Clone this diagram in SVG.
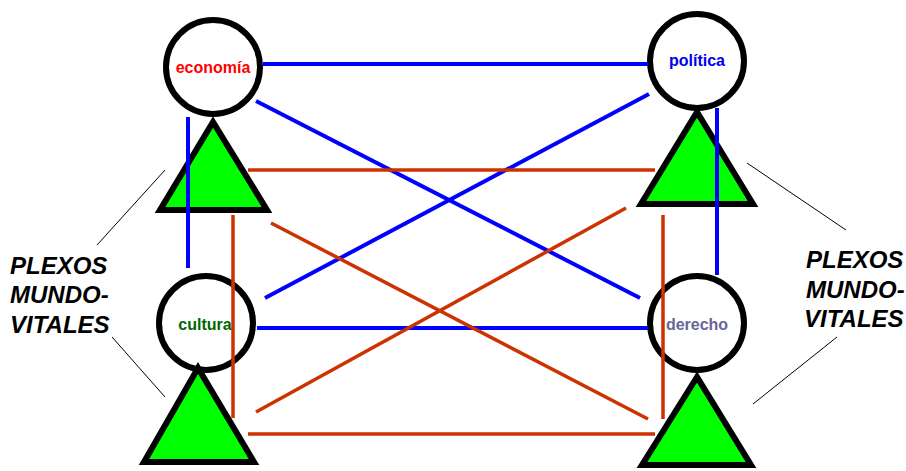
<svg xmlns="http://www.w3.org/2000/svg" width="906" height="471" viewBox="0 0 906 471">
  <style>
    .blue { stroke: #0000ff; stroke-width: 4; fill: none; }
    .red { stroke: #cc3300; stroke-width: 3.5; fill: none; }
    .thin { stroke: #000000; stroke-width: 1; fill: none; }
    .circ { fill: #ffffff; stroke: #000000; stroke-width: 6; }
    .tri { fill: #00ff00; stroke: #000000; stroke-width: 6; stroke-linejoin: miter; }
    .lbl { font-family: "Liberation Sans", Arial, sans-serif; font-weight: bold; font-size: 16px; text-anchor: middle; }
    .side { font-family: "Liberation Sans", Arial, sans-serif; font-weight: bold; font-style: italic; font-size: 24px; fill: #000000; }
  </style>
  <rect width="906" height="471" fill="#ffffff"/>

  <!-- node shapes -->
  <g id="economia">
    <circle class="circ" cx="213" cy="67" r="47"/>
    <text class="lbl" x="213" y="73" fill="#ff0000">economía</text>
  </g>
  <g id="politica">
    <circle class="circ" cx="697" cy="61" r="47"/>
    <text class="lbl" x="697" y="66" fill="#0000ee">política</text>
  </g>
  <g id="cultura">
    <circle class="circ" cx="206" cy="323" r="47"/>
    <text class="lbl" x="205" y="330" fill="#006600">cultura</text>
  </g>
  <g id="derecho">
    <circle class="circ" cx="697" cy="323" r="47"/>
    <text class="lbl" x="697" y="330" fill="#666699">derecho</text>
  </g>

  <g id="plexo-economia">
    <polygon class="tri" points="213,122 160,210 267,210"/>
  </g>
  <g id="plexo-politica">
    <polygon class="tri" points="697,112 641,204 753,204"/>
  </g>
  <g id="plexo-cultura">
    <polygon class="tri" points="198,368 144,462 254,462"/>
  </g>
  <g id="plexo-derecho">
    <polygon class="tri" points="697,377 642,465 751,465"/>
  </g>

  <!-- connectors -->
  <g id="connectors">
    <line class="blue" x1="263" y1="64" x2="648" y2="64"/>
    <line class="blue" x1="256" y1="101" x2="640" y2="298"/>
    <line class="blue" x1="649" y1="94" x2="265" y2="298"/>
    <line class="blue" x1="257" y1="328" x2="648" y2="328"/>
    <line class="blue" x1="188" y1="117" x2="188" y2="268"/>
    <line class="blue" x1="717" y1="108" x2="717" y2="275"/>

    <line class="red" x1="248" y1="170" x2="655" y2="170"/>
    <line class="red" x1="248" y1="434" x2="655" y2="434"/>
    <line class="red" x1="233" y1="215" x2="233" y2="418"/>
    <line class="red" x1="663" y1="215" x2="663" y2="419"/>
    <line class="red" x1="271" y1="223" x2="648" y2="419"/>
    <line class="red" x1="256" y1="412" x2="626" y2="208"/>

    <line class="thin" x1="165" y1="170" x2="97" y2="245"/>
    <line class="thin" x1="112" y1="337" x2="165" y2="397"/>
    <line class="thin" x1="747" y1="163" x2="846" y2="230"/>
    <line class="thin" x1="837" y1="337" x2="753" y2="404"/>
  </g>

  <!-- side captions -->
  <g id="caption-left">
    <text class="side" x="10" y="274">PLEXOS</text>
    <text class="side" x="10" y="303">MUNDO-</text>
    <text class="side" x="10" y="333">VITALES</text>
  </g>
  <g id="caption-right">
    <text class="side" x="806" y="268">PLEXOS</text>
    <text class="side" x="806" y="298">MUNDO-</text>
    <text class="side" x="804" y="327">VITALES</text>
  </g>
</svg>
